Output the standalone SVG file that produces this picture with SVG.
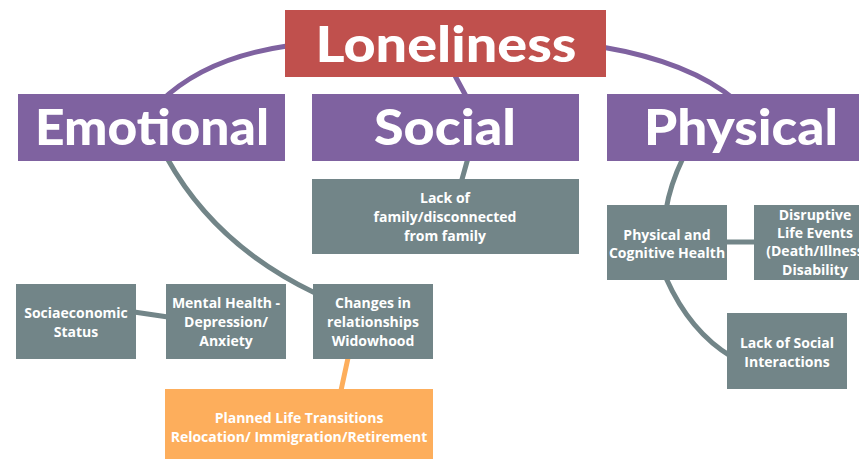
<svg xmlns="http://www.w3.org/2000/svg" width="859" height="459" viewBox="0 0 859 459">
<style>
.big{font-family:Lato,"Open Sans",sans-serif;font-weight:900;font-size:50px;fill:#fff;text-anchor:middle}
.sm{font-family:"Open Sans",Lato,sans-serif;font-weight:700;font-size:14px;fill:#fff;text-anchor:middle}
.red{fill:#c0504d}
.pur{fill:#7f62a0}
.gry{fill:#728588}
.org{fill:#fdae5c}
.cp{fill:none;stroke:#7f62a0;stroke-width:5;stroke-linecap:round}
.cg{fill:none;stroke:#728588;stroke-width:5;stroke-linecap:round}
.co{fill:none;stroke:#fdae5c;stroke-width:5;stroke-linecap:round}
</style>
<rect width="859" height="459" fill="#fff"/>
<g id="connectors">
<path class="cp" d="M287,46 Q205,58 160,102"/>
<path class="cp" d="M453,72 L467,98"/>
<path class="cp" d="M602,47 Q690,62 735,100"/>
<path class="cg" d="M167,158 Q215,245 315,293"/>
<path class="cg" d="M468,158 L459,190"/>
<path class="cg" d="M683,158 Q670,185 666,210"/>
<path class="cg" d="M725,242 L756,242"/>
<path class="cg" d="M666,278 Q690,332 732,357"/>
<path class="cg" d="M134,312 L168,317"/>
<path class="co" d="M348,358 L340,395"/>
</g>
<g id="loneliness"><rect class="red" x="285" y="10" width="321" height="67"/><text class="big" x="446" y="62" textLength="261" lengthAdjust="spacingAndGlyphs">Loneliness</text></g>
<g id="emotional"><rect class="pur" x="18" y="94" width="267" height="67"/><text class="big" x="152" y="145" textLength="234" lengthAdjust="spacingAndGlyphs">Emotional</text></g>
<g id="social"><rect class="pur" x="312" y="94" width="267" height="67"/><text class="big" x="445" y="145" textLength="142" lengthAdjust="spacingAndGlyphs">Social</text></g>
<g id="physical"><rect class="pur" x="607" y="94" width="260" height="67"/><text class="big" x="741" y="145" textLength="194" lengthAdjust="spacingAndGlyphs">Physical</text></g>
<g id="lack-family"><rect class="gry" x="312" y="179" width="267" height="75"/><text class="sm" x="445" y="203">Lack of</text><text class="sm" x="445" y="222">family/disconnected</text><text class="sm" x="445" y="241">from family</text></g>
<g id="phys-cog"><rect class="gry" x="607" y="205" width="120" height="75"/><text class="sm" x="667" y="240">Physical and</text><text class="sm" x="667" y="258">Cognitive Health</text></g>
<g id="disruptive"><rect class="gry" x="754" y="205" width="110" height="75"/><text class="sm" x="815" y="220">Disruptive</text><text class="sm" x="815" y="238">Life Events</text><text class="sm" x="815" y="256">(Death/Illness</text><text class="sm" x="815" y="275">Disability</text></g>
<g id="lack-social"><rect class="gry" x="727" y="313" width="120" height="76"/><text class="sm" x="787" y="348">Lack of Social</text><text class="sm" x="787" y="367">Interactions</text></g>
<g id="socio"><rect class="gry" x="16" y="284" width="120" height="75"/><text class="sm" x="76" y="318">Sociaeconomic</text><text class="sm" x="76" y="337">Status</text></g>
<g id="mental"><rect class="gry" x="166" y="284" width="120" height="75"/><text class="sm" x="226" y="308">Mental Health -</text><text class="sm" x="226" y="327">Depression/</text><text class="sm" x="226" y="346">Anxiety</text></g>
<g id="changes"><rect class="gry" x="313" y="284" width="120" height="75"/><text class="sm" x="373" y="308">Changes in</text><text class="sm" x="373" y="327">relationships</text><text class="sm" x="373" y="346">Widowhood</text></g>
<g id="planned"><rect class="org" x="165" y="389" width="268" height="70"/><text class="sm" x="299" y="423">Planned Life Transitions</text><text class="sm" x="299" y="442">Relocation/ Immigration/Retirement</text></g>
</svg>
